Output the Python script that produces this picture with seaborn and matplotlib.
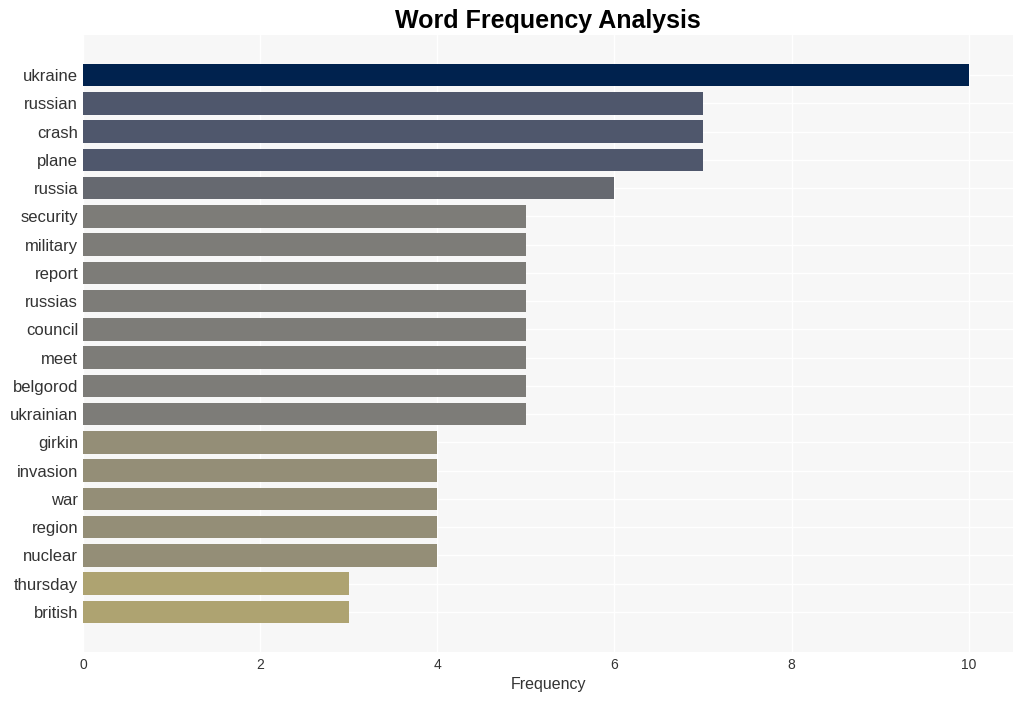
import matplotlib
matplotlib.use("Agg")
import matplotlib.pyplot as plt
import seaborn as sns
import pandas as pd
import numpy as np

words = ["ukraine", "russian", "crash", "plane", "russia", "security", "military",
         "report", "russias", "council", "meet", "belgorod", "ukrainian", "girkin",
         "invasion", "war", "region", "nuclear", "thursday", "british"]
counts = [10, 7, 7, 7, 6, 5, 5, 5, 5, 5, 5, 5, 5, 4, 4, 4, 4, 4, 3, 3]

df = pd.DataFrame({"word": words, "count": counts})

sns.set_theme(style="whitegrid")
plt.rcParams["font.family"] = ["Liberation Sans", "DejaVu Sans"]

fig = plt.figure(figsize=(10.22, 7.01), dpi=100)
ax = fig.add_axes([83 / 1022, 49 / 701, (1013 - 83) / 1022, (652 - 35) / 701])
ax.set_facecolor("#f7f7f7")

cmap = plt.get_cmap("cividis")
colors = [cmap(1 - c / 10) for c in counts]

sns.barplot(data=df, x="count", y="word", hue="word", palette=colors,
            legend=False, ax=ax, width=0.8, saturation=1, linewidth=0)

ax.set_ylim(len(words) - 1 + 1.42, -1.42)
ax.grid(True, color="white", linewidth=1)
ax.set_axisbelow(True)
for s in ax.spines.values():
    s.set_visible(False)
ax.tick_params(axis="both", length=0, colors="#333333")
ax.tick_params(axis="y", labelsize=12, pad=3.5)
ax.tick_params(axis="x", labelsize=10, pad=4)
ax.set_ylabel("")
ax.set_xlabel("Frequency", fontsize=11.5, color="#333333", labelpad=4)
ax.set_xticks([0, 2, 4, 6, 8, 10])
ax.set_title("Word Frequency Analysis", fontsize=18, fontweight="bold", pad=5,
             color="black")

fig.savefig("out.png", dpi=100)
